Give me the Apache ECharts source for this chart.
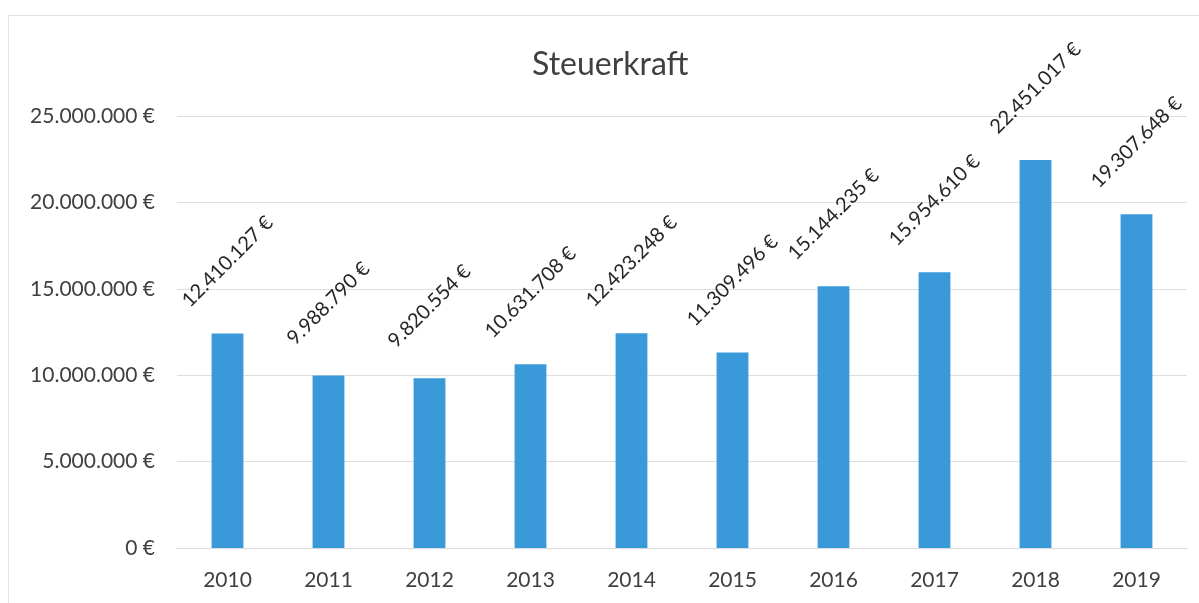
<!DOCTYPE html>
<html>
<head>
<meta charset="utf-8">
<script src="https://cdn.jsdelivr.net/npm/echarts@6/dist/echarts.min.js"></script>
<style>
  html, body { margin: 0; padding: 0; background: #fff; }
  #wrap { position: relative; width: 1199px; height: 603px; }
  #frame {
    position: absolute; left: 8px; top: 15px; right: 0; bottom: 0;
    border-left: 1px solid #e3e3e3; border-top: 1px solid #e3e3e3;
    pointer-events: none;
  }
  #chart { width: 1199px; height: 603px; }
</style>
</head>
<body>
<div id="wrap">
  <div id="chart"></div>
  <div id="frame"></div>
</div>
<script>
// Jahre und Steuerkraft-Werte (in €)
const years = ['2010', '2011', '2012', '2013', '2014', '2015', '2016', '2017', '2018', '2019']
const steuerkraft = [12410127, 9988790, 9820554, 10631708, 12423248, 11309496, 15144235, 15954610, 22451017, 19307648]

// Zahl im deutschen Format: 12.410.127 €
function euro(v) {
  return String(Math.round(v)).replace(/\B(?=(\d{3})+(?!\d))/g, '.') + ' €'
}

const chart = echarts.init(document.getElementById('chart'))
const textColor = '#404040'
const fontFamily = 'Lato, "Open Sans", sans-serif'

const option = {
  animation: false,
  textStyle: { fontFamily: fontFamily },
  title: {
    text: 'Steuerkraft',
    left: 527,
    top: 44,
    textStyle: { fontSize: 32, fontWeight: 'normal', color: textColor, fontFamily: fontFamily }
  },
  grid: { left: 177, right: 12, top: 116, bottom: 55 },
  xAxis: {
    type: 'category',
    data: years,
    axisLine: { show: true, lineStyle: { color: '#d9d9d9' } },
    axisTick: { show: false },
    axisLabel: { color: textColor, fontSize: 21, margin: 22, fontFamily: fontFamily }
  },
  yAxis: {
    type: 'value',
    min: 0,
    max: 25000000,
    interval: 5000000,
    axisLine: { show: false },
    axisTick: { show: false },
    splitLine: { lineStyle: { color: '#dedede' } },
    axisLabel: {
      color: textColor,
      fontSize: 21,
      margin: 22,
      fontFamily: fontFamily,
      formatter: (v) => euro(v)
    }
  },
  series: [
    {
      type: 'bar',
      data: steuerkraft,
      barWidth: '31.5%',
      itemStyle: { color: '#3a9ad9' },
      label: {
        show: true,
        position: 'top',
        distance: 72,
        rotate: 45,
        align: 'center',
        verticalAlign: 'middle',
        color: '#262626',
        fontSize: 20,
        fontFamily: fontFamily,
        formatter: (p) => euro(p.value)
      }
    }
  ]
}
chart.setOption(option)
</script>
</body>
</html>
